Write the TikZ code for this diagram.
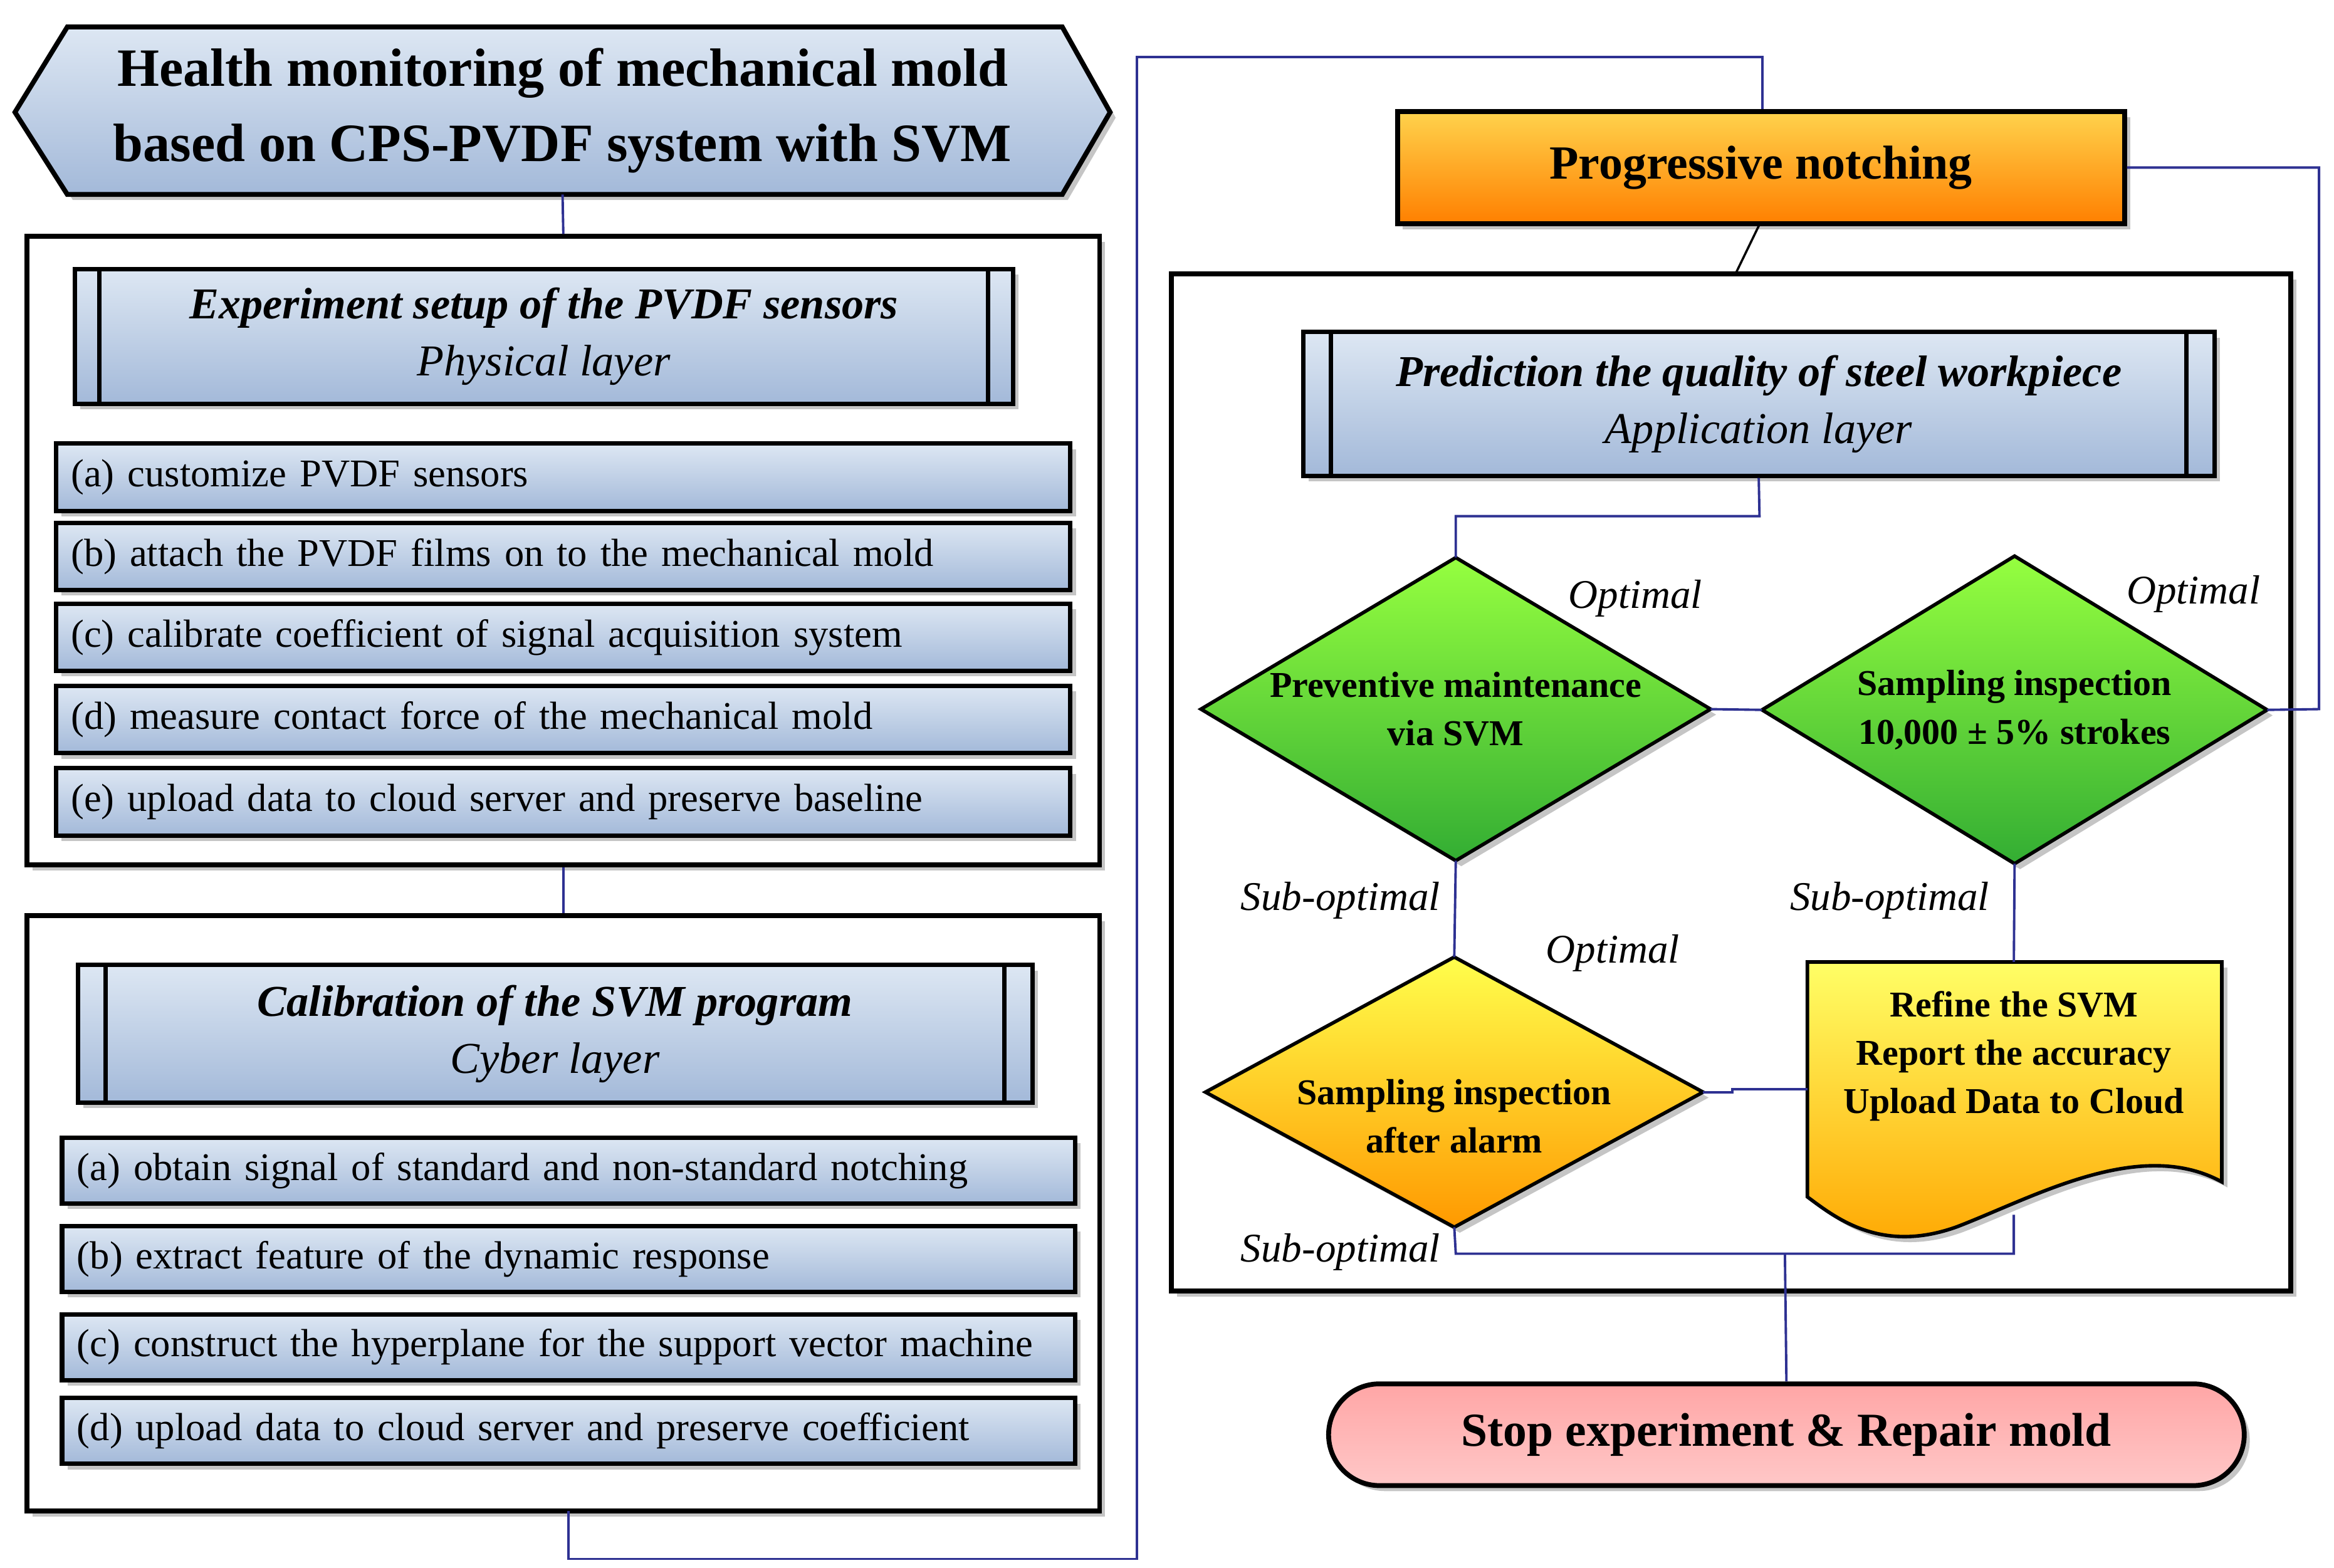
\documentclass[tikz,border=0pt]{standalone}
\usepackage{fontspec}
\setmainfont{Liberation Serif}
\usetikzlibrary{shapes.geometric,shadows,calc}
\newlength\U \setlength\U{0.02387cm}
\definecolor{lk}{HTML}{2E3192}
\definecolor{bt}{HTML}{DDE7F3}
\definecolor{bb}{HTML}{A3B9D9}
\tikzset{
 shd/.style={drop shadow={shadow xshift=2.5pt,shadow yshift=-2.5pt,fill=black!45}},
 bluef/.style={top color=bt,bottom color=bb},
 frame/.style={draw=black,line width=2.2pt,fill=white,shd},
 hdr/.style={draw=black,line width=2pt,bluef,shd,align=center,font=\fontsize{20}{26}\selectfont},
 step/.style={draw=black,line width=2pt,bluef,shd,anchor=north west,text width=#1,align=left,inner xsep=10\U,font=\fontsize{17.8}{22}\selectfont},
 dbox/.style={minimum width=#1*\U,inner sep=0pt,align=center,font=\fontsize{16.5}{22}\bfseries\selectfont},
 dshape/.style={draw=black,line width=1.6pt,shd},
 lk/.style={draw=lk,line width=1.1pt},
 lab/.style={font=\fontsize{18.5}{22}\itshape\selectfont},
}
\newcommand\bars[2]{\draw[line width=2pt] ([xshift=#2*\U]#1.north west) -- ([xshift=#2*\U]#1.south west) ([xshift=-#2*\U]#1.north east) -- ([xshift=-#2*\U]#1.south east);}
\newcommand\dmd[2]{\path[dshape,#2] (#1.north) -- (#1.east) -- (#1.south) -- (#1.west) -- cycle;}
\begin{document}
\begin{tikzpicture}[x=0.02387cm,y=-0.02387cm]
\useasboundingbox (0,0) rectangle (1560,1048);
\draw[line width=2.2pt,top color=bt,bottom color=bb,shd] (10,75) -- (45,18) -- (710,18) -- (742,75) -- (710,130) -- (45,130) -- cycle;
\node[align=center,font=\fontsize{24.5}{34}\bfseries\selectfont] (title) at (376,74) {Health monitoring of mechanical mold\\based on CPS-PVDF system with SVM};
\coordinate (tb) at (376,130);
\node[frame,minimum width=717*\U,minimum height=420*\U] (b1) at (376.5,368) {};
\node[hdr,minimum width=627*\U,minimum height=90*\U] (h1) at (363.5,225) {\textbf{\textit{Experiment setup of the PVDF sensors}}\\\textit{Physical layer}};
\bars{h1}{18}
\node[step=658*\U,minimum height=45*\U] (s1a) at (36,295) {(a) customize PVDF sensors};
\node[step=658*\U,minimum height=45*\U] (s1b) at (36,348) {(b) attach the PVDF films on to the mechanical mold};
\node[step=658*\U,minimum height=45*\U] (s1c) at (36,402) {(c) calibrate coefficient of signal acquisition system};
\node[step=658*\U,minimum height=45*\U] (s1d) at (36,457) {(d) measure contact force of the mechanical mold};
\node[step=658*\U,minimum height=45*\U] (s1e) at (36,512) {(e) upload data to cloud server and preserve baseline};
\draw[lk] (tb) -- (b1.north);
\node[frame,minimum width=717*\U,minimum height=398*\U] (b2) at (376.5,811) {};
\draw[lk] (b1.south) -- (b2.north);
\node[hdr,minimum width=638*\U,minimum height=92*\U] (h2) at (371,691) {\textbf{\textit{Calibration of the SVM program}}\\\textit{Cyber layer}};
\bars{h2}{20}
\node[step=657*\U,minimum height=44*\U] (s2a) at (40,759) {(a) obtain signal of standard and non-standard notching};
\node[step=657*\U,minimum height=44*\U] (s2b) at (40,818) {(b) extract feature of the dynamic response};
\node[step=657*\U,minimum height=44*\U] (s2c) at (40,877) {(c) construct the hyperplane for the support vector machine};
\node[step=657*\U,minimum height=44*\U] (s2d) at (40,933) {(d) upload data to cloud server and preserve coefficient};
\node[draw=black,line width=2.2pt,shd,top color=orange!50!yellow!70,bottom color=orange,minimum width=486*\U,minimum height=75*\U,font=\fontsize{21.6}{26}\bfseries\selectfont] (pn) at (1177,112) {Progressive notching};
\draw[lk] (380,1010) -- (380,1042) -- (760,1042) -- (760,38) -- (1178,38) -- (pn.north -| 1178,0);
\node[frame,minimum width=748*\U,minimum height=680*\U] (b3) at (1157,523) {};
\draw[draw=black,line width=1pt] (1176,150) -- (1160,183);
\node[hdr,minimum width=609*\U,minimum height=96*\U] (h3) at (1175.5,270) {\textbf{\textit{Prediction the quality of steel workpiece}}\\\textit{Application layer}};
\bars{h3}{20}
\node[dbox=340,minimum height=202*\U] (d1) at (973,474) {};
\dmd{d1}{top color=green!55!yellow!75,bottom color=green!60!black!80}
\node[dbox=340,minimum height=202*\U] at (973,474) {Preventive maintenance\\via SVM};
\node[dbox=337,minimum height=205*\U] (d2) at (1346.5,474.5) {};
\dmd{d2}{top color=green!55!yellow!75,bottom color=green!60!black!80}
\node[dbox=337,minimum height=205*\U] at (1346.5,474.5) {Sampling inspection\\10,000 ± 5\% strokes};
\node[dbox=332,minimum height=180*\U] (d3) at (972,730) {};
\dmd{d3}{top color=yellow!70,bottom color=orange!80!yellow}
\node[dbox=332,minimum height=180*\U] at (972,746) {Sampling inspection\\after alarm};
\draw[line width=1.6pt,shd,top color=yellow!60,bottom color=orange!70!yellow] (1208,643) -- (1485,643) -- (1485,790) .. controls (1430,760) and (1360,800) .. (1308,820) .. controls (1258,838) and (1228,815) .. (1208,800) -- cycle;
\node[align=center,font=\fontsize{16.5}{22}\bfseries\selectfont] (rf) at (1346,706) {Refine the SVM\\Report the accuracy\\Upload Data to Cloud};
\node[draw=black,line width=2.2pt,shd,rounded corners=34*\U,top color=red!35,bottom color=red!15!pink!60,minimum width=612*\U,minimum height=68*\U,font=\fontsize{21.5}{26}\bfseries\selectfont] (st) at (1194,959) {Stop experiment \& Repair mold};
\coordinate (rb) at (1346,812);
\coordinate (jn) at (1193,838);
\draw[lk] (h3.south) -- (1176,345) -- (973,345) -- (d1.north);
\draw[lk] (d1.east) -- (d2.west);
\draw[lk] (d2.east) -- (1550,474) -- (1550,112) -- (pn.east);
\draw[lk] (d1.south) -- (d3.north);
\draw[lk] (d2.south) -- (1346,643);
\draw[lk] (1208,728) -- (1158,728) -- (1158,730) -- (d3.east);
\draw[lk] (d3.south) -- (973,838) -- (1346,838) -- (rb);
\draw[lk] (jn) -- (st.north);
\node[lab] (o1) at (1093,400) {Optimal};
\node[lab] (o2) at (1466,397) {Optimal};
\node[lab] (o3) at (1078,637) {Optimal};
\node[lab] (u1) at (896,602) {Sub-optimal};
\node[lab] (u2) at (1263,602) {Sub-optimal};
\node[lab] (u3) at (896,837) {Sub-optimal};
\end{tikzpicture}
\end{document}
